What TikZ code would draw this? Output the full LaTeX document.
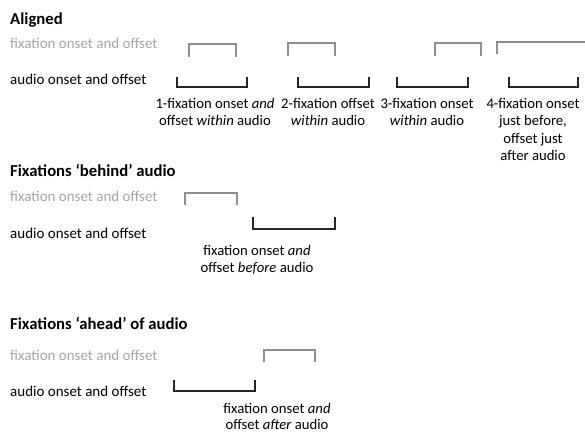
\documentclass[tikz,border=0pt]{standalone}
\usepackage{fontspec}
\setmainfont{Carlito}
\definecolor{fixtext}{HTML}{A5A5A5}
\definecolor{fixline}{HTML}{8E8E8E}
\definecolor{audline}{HTML}{262626}
\begin{document}
\begin{tikzpicture}[x=1pt,y=-1pt,
  heading/.style={anchor=base west,inner sep=0pt,font=\fontsize{16.7}{20}\selectfont\bfseries},
  fixrow/.style={anchor=base west,inner sep=0pt,text=fixtext,font=\fontsize{15}{17}\selectfont},
  audrow/.style={anchor=base west,inner sep=0pt,font=\fontsize{15}{17}\selectfont},
  caption/.style={anchor=north,inner sep=0pt,align=center,font=\fontsize{14.7}{17.5}\selectfont},
  fixbracket/.style={draw=fixline,line width=1.2pt},
  audbracket/.style={draw=audline,line width=1.4pt}]
\useasboundingbox (0,0) rectangle (585,435);

\node[heading] (aligned) at (10,25) {Aligned};
\node[fixrow] (fixA) at (10,49) {fixation onset and offset};
\node[audrow] (audA) at (10,85) {audio onset and offset};
\draw[fixbracket] (189,57) |- (236,44) -- (236,57);
\draw[fixbracket] (288,56) |- (335,43) -- (335,56);
\draw[fixbracket] (435,56) |- (481,43) -- (481,56);
\draw[fixbracket] (497,54) |- (585,42);
\draw[audbracket] (177,77) |- (247,87) -- (247,77);
\draw[audbracket] (298,77) |- (369,87) -- (369,77);
\draw[audbracket] (397,77) |- (468,87) -- (468,77);
\draw[audbracket] (509,77) |- (578,87) -- (578,77);
\node[caption] (capA1) at (215,98) {1-fixation onset \textit{and}\\offset \textit{within} audio};
\node[caption] (capA2) at (328,98) {2-fixation offset\\\textit{within} audio};
\node[caption] (capA3) at (427,98) {3-fixation onset\\\textit{within} audio};
\node[caption] (capA4) at (533,98) {4-fixation onset\\just before,\\offset just\\after audio};

\node[heading] (behind) at (10,177) {Fixations ‘behind’ audio};
\node[fixrow] (fixB) at (10,202) {fixation onset and offset};
\node[audrow] (audB) at (10,239) {audio onset and offset};
\draw[fixbracket] (185,205) |- (237,193) -- (237,205);
\draw[audbracket] (253,217) |- (335,229) -- (335,217);
\node[caption] (capB) at (257,245) {fixation onset \textit{and}\\offset \textit{before} audio};

\node[heading] (ahead) at (10,329) {Fixations ‘ahead’ of audio};
\node[fixrow] (fixC) at (10,360) {fixation onset and offset};
\node[audrow] (audC) at (10,396) {audio onset and offset};
\draw[fixbracket] (264,362) |- (315,350) -- (315,362);
\draw[audbracket] (174,380) |- (255,391) -- (255,380);
\node[caption,font=\fontsize{14.7}{16.5}\selectfont] (capC) at (277,403) {fixation onset \textit{and}\\offset \textit{after} audio};
\end{tikzpicture}
\end{document}
